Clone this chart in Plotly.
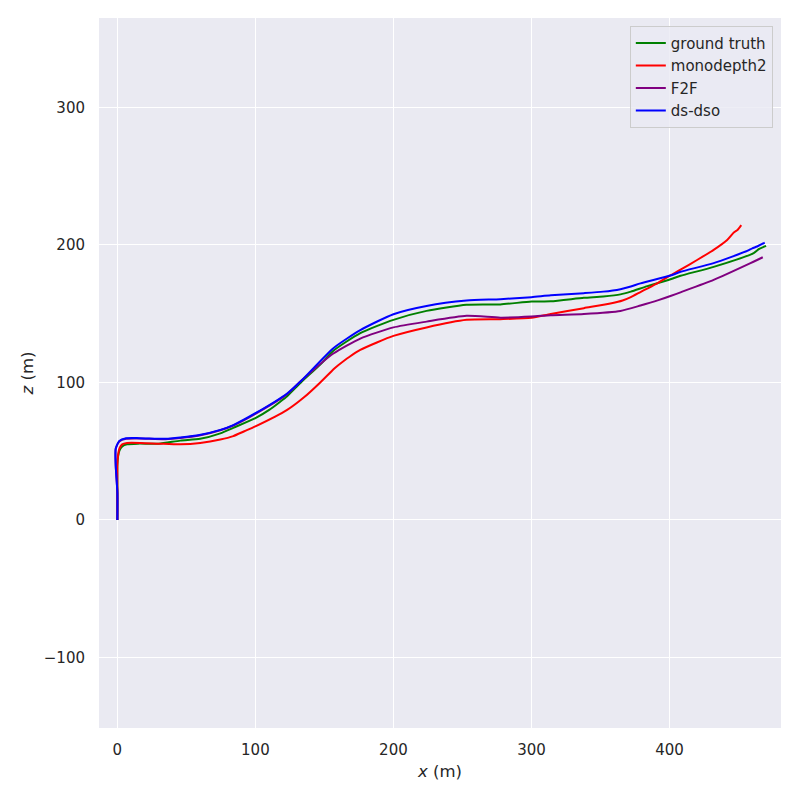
import plotly.graph_objects as go

# ---- data ----
gt_x = [0, 0, 0, 0.5, 1.5, 3.5, 7, 15, 30, 45.6, 60, 74.6, 84, 100, 110, 118, 123, 133, 147, 156.5, 176, 200, 224, 253, 277.5, 300, 314, 338, 352, 364.5, 372, 384, 400.7, 408, 432, 461, 465, 470]
gt_z = [0, 20, 40, 46, 50.5, 53.5, 55, 55.5, 55.5, 57.7, 59, 63, 67, 74, 80, 86, 90, 100, 113, 123, 135.8, 145.5, 152, 156.4, 156.7, 158.8, 159, 161.5, 162.5, 164, 166, 170, 175, 177.5, 184, 194, 197, 199.3]

md_x = [0, 0, 0, 0.5, 1.5, 3.5, 7, 17, 30, 45.6, 60, 74.6, 84, 92, 100, 123, 135, 147, 157, 160, 168, 176, 188, 200, 224, 253, 277.5, 300, 314, 338, 358, 366, 372, 379, 390, 400, 408, 420, 432, 441.8, 446.6, 449.5, 452]
md_z = [0, 20, 40, 47, 52, 55, 56, 56, 55.5, 55, 56, 58.5, 61, 64.5, 68, 80, 89, 100, 110, 112.5, 118.5, 123.6, 129, 133.8, 140, 145.5, 146, 147, 149.8, 154, 157.5, 159.5, 162, 165.7, 171.5, 177.5, 182, 189, 196.4, 203.6, 209, 211, 214.3]

f2f_x = [0, 0, -1.2, -1.2, 1.4, 6.3, 16, 35, 45.6, 59.4, 74.6, 84, 100, 123, 133, 156.5, 176, 200, 224, 253, 277.5, 300, 314, 338, 364.5, 379, 392, 400.7, 408, 432, 458.7, 463.5, 467.6]
f2f_z = [0, 20, 40, 51.5, 57, 59, 59.2, 58.7, 59.6, 61.4, 65.2, 68.7, 77.2, 91.5, 101, 121, 131.9, 140, 144.2, 148.4, 147.1, 147.9, 148.9, 149.8, 152, 155.9, 159.8, 162.8, 165.5, 174.5, 186.7, 189, 191]

dso_x = [0, 0, -1.2, -1.2, 1.4, 6.3, 16, 35, 45.6, 59.4, 74.6, 84, 100, 123, 133.8, 156.5, 176, 200, 224, 253, 277.5, 300, 314, 338, 352, 364.5, 372, 379, 400.7, 408, 432, 456.3, 460, 463.5, 469]
dso_z = [0, 20, 40, 52, 57.5, 59.4, 59.5, 59, 60, 61.8, 65.5, 69, 77.6, 92, 101.8, 124.9, 138, 149.6, 155.6, 159.5, 160.5, 162, 163.4, 164.9, 166, 167.8, 169.7, 172, 177.7, 180.4, 186.7, 195.6, 197.5, 198.8, 201.7]

series = [
    ("ground truth", gt_x, gt_z, "green"),
    ("monodepth2", md_x, md_z, "red"),
    ("F2F", f2f_x, f2f_z, "purple"),
    ("ds-dso", dso_x, dso_z, "blue"),
]

x_ticks = [0, 100, 200, 300, 400]
y_ticks = [-100, 0, 100, 200, 300]
y_tick_text = ["\u2212100", "0", "100", "200", "300"]

fig = go.Figure()
for name, xs, zs, col in series:
    fig.add_trace(go.Scatter(x=xs, y=zs, mode="lines", name=name,
                             line=dict(color=col, width=2, shape="spline", smoothing=0.6)))

font_family = "DejaVu Sans"
fig.update_layout(
    width=800, height=800,
    margin=dict(l=91, r=27, t=10, b=80),
    paper_bgcolor="white",
    plot_bgcolor="#EAEAF2",
    font=dict(family=font_family, size=15, color="#262626"),
    legend=dict(x=0.988, y=0.989, xanchor="right", yanchor="top",
                bgcolor="rgba(234,234,242,0.8)", bordercolor="#CCCCCC", borderwidth=1,
                font=dict(size=15, color="#262626"), tracegroupgap=0,
                itemwidth=30),
    showlegend=True,
)
fig.update_xaxes(range=[-13.3, 480.8], tickvals=x_ticks, showgrid=True, gridcolor="white",
                 gridwidth=1.3, zeroline=False, showline=False, ticks="",
                 ticklabelstandoff=11,
                 title=dict(text="<i>x</i> (m)", font=dict(size=16.5), standoff=7),
                 tickfont=dict(size=15), automargin=False)
fig.update_yaxes(range=[-151.2, 364.9], tickvals=y_ticks, ticktext=y_tick_text, showgrid=True,
                 gridcolor="white", gridwidth=1.3, zeroline=False, showline=False, ticks="",
                 ticklabelstandoff=13,
                 title=dict(text="<i>z</i> (m)", font=dict(size=16.5), standoff=6),
                 tickfont=dict(size=15), automargin=False)

fig.write_html("out.html")
